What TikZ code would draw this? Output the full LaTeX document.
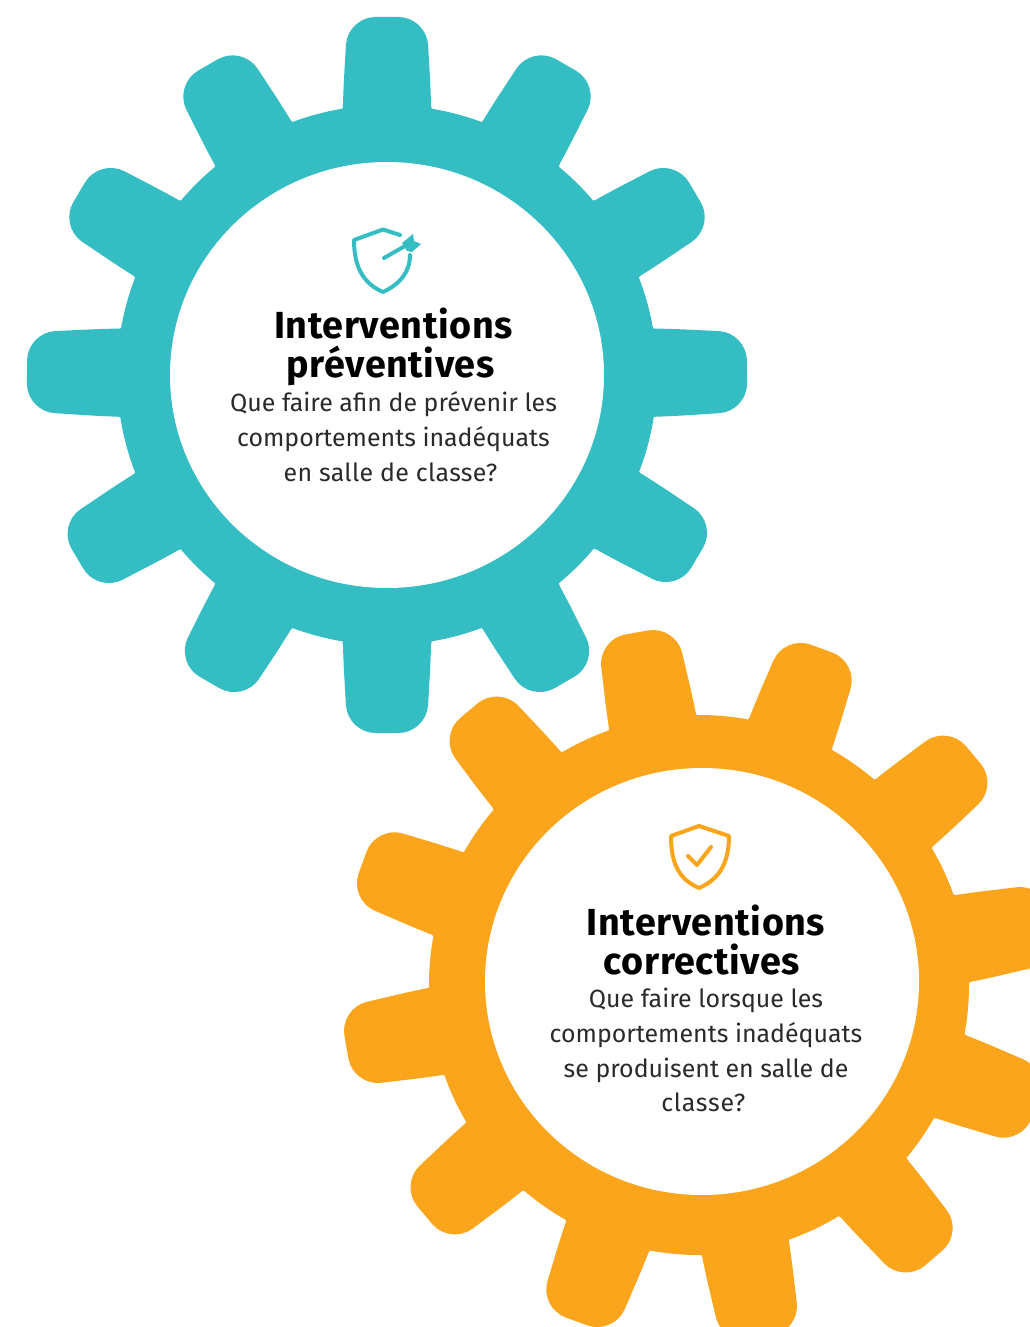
\documentclass[tikz,border=0pt]{standalone}
\usepackage{fontspec}
\setmainfont{Fira Sans}
\definecolor{teal}{HTML}{34BEC4}
\definecolor{amber}{HTML}{FBA51C}
\definecolor{bodytext}{HTML}{2A2A2A}
\tikzset{
  x=.75pt,y=-.75pt,
  titletext/.style={inner sep=0,align=center,font=\fontsize{28.3}{29.5}\selectfont\bfseries\addfontfeature{LetterSpace=1.5},text=black},
  bodycopy/.style={inner sep=0,align=center,font=\fontsize{18.7}{26.2}\selectfont,text=bodytext},
  iconline/.style={line width=3pt,line cap=round,line join=round},
}
\newcommand{\geartooth}[4]{% cx,cy,angle,length
  \fill[shift={(#1,#2)},rotate=#3,rounded corners=21pt] (-44.5,-240) -- (-44.5,-270) -- (-39.5,-#4) -- (39.5,-#4) -- (44.5,-270) -- (44.5,-240) -- cycle;
}
\begin{document}
\begin{tikzpicture}
\useasboundingbox (0,0) rectangle (1030,1327);
\clip (0,0) rectangle (1030,1327);
\fill[white] (0,0) rectangle (1030,1327);
% teal gear
\begin{scope}[teal]
  \fill (387,375) circle[x radius=270,y radius=270];
  \foreach \a/\l in {0/358,30/358,59.3/358,89.5/360,120.7/360,150/355,180/358,210/355,239.5/360,270.5/360,300.7/358,330/358}{\geartooth{387}{375}{\a}{\l}}
\end{scope}
\fill[white] (387,375) ellipse[x radius=217,y radius=213];
% amber gear
\begin{scope}[amber]
  \fill (699,985) circle[x radius=270,y radius=270];
  \foreach \a/\l in {10/358,40/358,70/358,100/358,130/358,160/358,190/358,220.7/360,250/358,280/358,310/358,340/358}{\geartooth{699}{985}{\a}{\l}}
\end{scope}
\fill[white] (702,981.5) ellipse[x radius=217,y radius=213.5];
% teal icon
\draw[iconline,teal] (400,235) -- (383,229.5) -- (354,240) .. controls (354,265) and (362,283) .. (383,292) .. controls (400,284) and (410,272) .. (410,255);
\draw[iconline,teal] (384,258) -- (405,246);
\fill[teal] (402,243) -- (413,234) -- (414,241) -- (421,244) -- (412,252) -- (407,251) -- cycle;
% amber icon
\draw[iconline,amber] (699,826) -- (671,836) .. controls (671,862) and (678,879) .. (699,888) .. controls (720,879) and (729,862) .. (729,836) -- cycle;
\draw[iconline,amber] (688,856) -- (697,865) -- (711,847);
% texts
\node[titletext] (t1) at (393.5,347) {Interventions\\préventives\kern4.5pt};
\node[bodycopy] (b1) at (393.5,437) {Que faire afin de prévenir les\\comportements inadéquats\\{\addfontfeature{LetterSpace=1.3}en salle de classe?}\kern4.5pt};
\node[titletext] (t2) at (706,940) {Interventions\\correctives\kern6pt};
\node[bodycopy] (b2) at (706,1050) {Que faire lorsque les\\comportements inadéquats\\se produisent en salle de\\{\addfontfeature{LetterSpace=3}classe?}\kern4pt};
\end{tikzpicture}
\end{document}
